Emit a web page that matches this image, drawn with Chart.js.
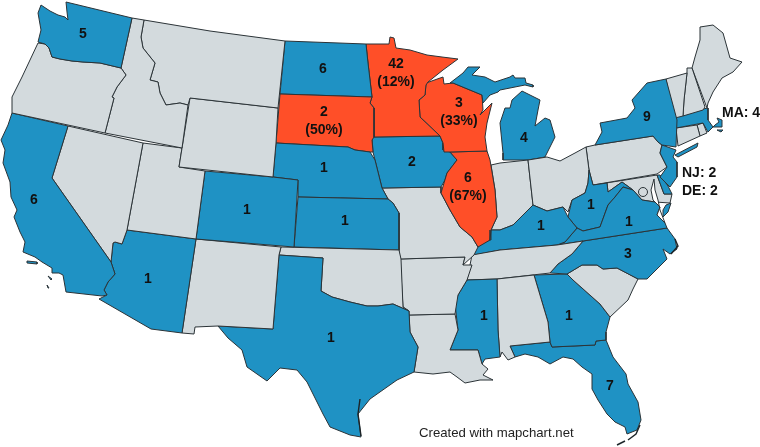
<!DOCTYPE html>
<html>
<head>
<meta charset="utf-8">
<style>
  html, body { margin: 0; padding: 0; background: #fff; }
  #wrap { width: 760px; height: 447px; }
</style>
<script src="https://cdn.jsdelivr.net/npm/chart.js@4/dist/chart.umd.min.js"></script>
</head>
<body>
<div id="wrap"><canvas id="map"></canvas></div>
<script>
// state outlines (map units = reference pixels)
const WA = [[66,2],[132,18],[121,68],[100,63],[83,62],[72,61],[60,59],[52,57],[49,48],[45,44],[38,42],[41,30],[38,13],[41,5],[50,11],[58,15],[65,17],[68,20],[67,12],[66,2]];
const OR = [[38,43],[45,44],[49,48],[52,57],[60,59],[72,61],[83,62],[100,63],[121,68],[126,75],[117,87],[112,97],[114,98],[105,133],[12,113],[12,97],[22,77],[30,60],[38,43]];
const CA = [[12,113],[68,126],[52,178],[111,262],[115,274],[108,282],[104,290],[107,295],[102,296],[66,292],[63,275],[59,273],[52,273],[52,268],[42,262],[35,257],[23,252],[25,242],[20,232],[14,217],[17,210],[11,197],[10,182],[3,163],[5,150],[1,140],[8,125],[12,113]];
const NV = [[68,126],[143,143],[127,230],[122,244],[115,242],[113,243],[111,262],[52,178],[68,126]];
const ID = [[132,18],[144,20],[141,37],[143,48],[155,63],[150,80],[158,82],[160,93],[166,105],[180,103],[188,105],[182,148],[105,133],[114,98],[112,97],[117,87],[126,75],[121,68],[132,18]];
const MT = [[144,20],[210,31],[285,41],[278,108],[190,98],[188,105],[180,103],[166,105],[160,93],[158,82],[150,80],[155,63],[143,48],[141,37],[144,20]];
const WY = [[190,98],[278,108],[276,143],[273,177],[179,167],[190,98]];
const UT = [[143,143],[182,148],[179,167],[205,171],[196,239],[127,230],[143,143]];
const CO = [[205,171],[273,177],[298,180],[294,247],[196,239],[205,171]];
const AZ = [[127,230],[196,239],[182,333],[151,329],[99,299],[107,295],[104,290],[108,282],[115,274],[111,262],[113,243],[115,242],[122,244],[127,230]];
const NM = [[196,239],[281,247],[279,255],[273,329],[218,326],[195,327],[194,334],[182,333],[196,239]];
const TX = [[279,255],[323,258],[321,291],[332,297],[350,302],[367,306],[378,306],[393,304],[409,311],[410,332],[418,347],[414,372],[397,380],[370,399],[358,414],[361,437],[350,435],[330,427],[323,414],[307,382],[297,370],[280,368],[267,381],[247,367],[242,350],[228,338],[218,326],[273,329],[279,255]];
const OK = [[281,247],[399,250],[401,259],[403,307],[409,311],[393,304],[378,306],[367,306],[350,302],[332,297],[321,291],[323,258],[279,255],[281,247]];
const KS = [[298,197],[388,199],[393,203],[399,213],[399,250],[294,247],[298,197]];
const NE = [[276,143],[348,147],[355,150],[370,152],[375,160],[382,188],[388,199],[298,197],[298,180],[273,177],[276,143]];
const SD = [[280,94],[372,97],[370,103],[374,108],[374,137],[372,140],[373,152],[370,152],[355,150],[348,147],[276,143],[280,94]];
const ND = [[285,41],[366,44],[368,63],[372,97],[280,94],[285,41]];
const MN = [[366,44],[389,44],[390,37],[394,38],[396,48],[410,50],[427,55],[442,57],[458,59],[443,70],[428,82],[426,85],[425,95],[419,100],[420,117],[440,136],[374,137],[374,108],[370,103],[372,97],[368,63],[366,44]];
const WI = [[426,83],[443,77],[444,84],[453,83],[482,95],[483,110],[480,115],[492,103],[487,123],[485,137],[487,151],[450,152],[444,152],[443,143],[440,136],[420,117],[419,100],[425,95],[426,83]];
const IL = [[450,152],[487,151],[490,160],[495,190],[497,217],[491,230],[490,240],[478,247],[472,237],[460,227],[450,210],[441,193],[447,173],[457,160],[450,152]];
const IA = [[372,137],[440,136],[443,143],[443,150],[450,152],[457,160],[447,173],[445,180],[441,187],[382,188],[375,160],[373,152],[372,137]];
const MO = [[382,188],[441,187],[441,193],[450,210],[460,227],[472,237],[478,247],[474,255],[463,265],[465,257],[400,259],[399,250],[399,213],[393,203],[388,199],[382,188]];
const AR = [[400,259],[465,257],[463,265],[472,265],[467,280],[458,295],[455,314],[409,315],[409,311],[403,307],[400,259]];
const LA = [[409,315],[455,314],[458,330],[450,350],[478,350],[482,364],[488,369],[483,375],[493,380],[480,380],[465,383],[457,377],[450,372],[433,374],[414,372],[418,347],[410,332],[409,315]];
const MS = [[467,280],[497,279],[498,330],[500,357],[485,359],[482,364],[478,350],[450,350],[458,330],[455,304],[458,295],[467,280]];
const AL = [[497,279],[534,275],[548,322],[550,342],[510,346],[515,357],[508,360],[502,352],[500,357],[498,330],[497,279]];
const TN = [[467,280],[472,255],[500,250],[557,245],[583,241],[572,254],[558,264],[550,273],[497,279],[467,280]];
const KY = [[474,255],[477,245],[490,240],[491,230],[500,230],[513,225],[533,205],[547,211],[563,207],[568,217],[577,228],[565,242],[557,245],[500,250],[474,255]];
const VA = [[577,228],[583,231],[600,227],[608,205],[615,197],[623,187],[633,190],[642,200],[655,202],[660,207],[657,215],[665,223],[667,228],[583,241],[557,245],[565,242],[577,228]];
const VA_SHORE = [[666,205],[671,203],[668,212],[663,217],[663,210],[666,205]];
const WV = [[589,170],[593,185],[607,183],[608,192],[622,182],[633,190],[623,187],[615,197],[608,205],[600,227],[583,231],[577,228],[568,217],[572,200],[585,193],[588,183],[589,170]];
const OH = [[528,160],[547,157],[560,161],[575,153],[586,147],[589,170],[588,183],[585,193],[572,200],[568,212],[563,207],[547,211],[533,205],[528,160]];
const IN = [[491,165],[500,163],[528,160],[533,205],[513,225],[500,230],[491,230],[497,217],[495,190],[491,165]];
const MI_LOW = [[503,160],[528,160],[545,157],[555,137],[550,120],[545,118],[535,126],[538,110],[540,100],[522,91],[512,100],[510,108],[505,108],[500,123],[502,143],[503,153],[503,160]];
const MI_UP = [[450,83],[463,73],[468,67],[480,67],[472,75],[485,77],[495,82],[510,77],[513,75],[515,78],[525,78],[526,83],[533,85],[533,87],[525,85],[510,88],[500,90],[498,92],[490,95],[483,103],[482,95],[453,83],[450,83]];
const NY = [[666,79],[677,120],[676,147],[662,145],[658,142],[653,136],[595,145],[602,132],[600,123],[627,118],[635,108],[632,100],[647,83],[666,79]];
const LONG_ISLAND = [[675,155],[698,143],[697,147],[678,157],[675,155]];
const NJ = [[662,145],[676,150],[673,157],[677,162],[677,177],[670,187],[660,177],[667,167],[660,153],[662,145]];
const PA = [[586,147],[595,145],[653,136],[658,142],[662,145],[660,153],[667,167],[657,174],[593,185],[589,170],[586,147]];
const DE = [[657,175],[660,175],[668,186],[672,194],[664,194],[657,175]];
const MD = [[593,185],[657,175],[664,194],[672,194],[670,203],[655,202],[642,200],[633,190],[622,182],[608,192],[607,183],[593,185]];
const VT = [[666,79],[687,73],[684,100],[683,116],[675,118],[670,100],[666,79]];
const NH = [[687,68],[692,68],[705,107],[703,110],[683,116],[684,100],[687,73],[687,68]];
const ME = [[692,68],[695,57],[700,40],[700,27],[713,25],[723,33],[730,58],[742,62],[733,72],[722,78],[713,92],[708,103],[707,108],[692,68]];
const MA = [[675,115],[703,109],[708,108],[708,120],[713,127],[722,127],[722,120],[717,118],[719,122],[715,125],[708,132],[703,123],[676,128],[675,115]];
const CT = [[676,128],[697,125],[700,136],[678,146],[676,128]];
const RI = [[697,125],[703,123],[707,133],[700,136],[697,125]];
const NC = [[667,228],[675,239],[677,249],[670,254],[663,249],[667,259],[647,279],[638,279],[617,268],[603,269],[597,265],[582,265],[567,274],[550,273],[558,264],[572,254],[583,241],[667,228]];
const SC = [[582,265],[597,265],[603,269],[617,268],[638,279],[633,289],[628,300],[610,317],[600,304],[573,280],[567,274],[582,265]];
const GA = [[534,275],[567,274],[573,280],[600,304],[610,317],[606,332],[606,340],[596,341],[595,345],[552,347],[550,342],[548,322],[534,275]];
const FL = [[510,346],[550,342],[552,347],[595,345],[596,341],[606,340],[613,357],[626,374],[628,384],[638,402],[641,420],[637,430],[627,434],[625,427],[615,422],[607,414],[598,400],[592,389],[592,374],[582,367],[573,359],[563,357],[550,364],[538,357],[525,354],[515,357],[510,346]];
const CA_ISLE_1 = [[27,261],[37,262],[37,264],[27,263],[27,261]];
const CA_ISLE_2 = [[48,276],[52,279],[51,280],[48,276]];
const CA_ISLE_3 = [[47,285],[49,288],[48,288],[47,285]];
const NANTUCKET = [[717,130],[723,130],[721,132],[717,130]];
const BAY = [[654,179],[651,190],[653,200],[660,207],[657,215],[665,223],[660,210],[658,200],[655,190],[654,179]];

const stateShapes = [WA,OR,CA,NV,ID,MT,WY,UT,CO,AZ,NM,TX,OK,KS,NE,SD,ND,MN,WI,IL,IA,MO,AR,LA,MS,AL,TN,KY,VA,WV,OH,IN,MI_LOW,NY,NJ,PA,DE,MD,VT,NH,ME,MA,CT,RI,NC,SC,GA,FL];
const blueExtras = [VA_SHORE,MI_UP,LONG_ISLAND,CA_ISLE_1,CA_ISLE_2,CA_ISLE_3,NANTUCKET];
const stateCodes = ['WA','OR','CA','NV','ID','MT','WY','UT','CO','AZ','NM','TX','OK','KS','NE','SD','ND','MN','WI','IL','IA','MO','AR','LA','MS','AL','TN','KY','VA','WV','OH','IN','MI','NY','NJ','PA','DE','MD','VT','NH','ME','MA','CT','RI','NC','SC','GA','FL'];

// counts per state and the share shown under the count
const countStates = ['WA','CA','CO','ND','SD','MN','WI','NE','IA','KS','IL','MI','NY','KY','WV','VA','NC','GA','MS','TX','AZ','FL','MA','NJ','DE'];
const counts = [5,6,1,6,2,42,3,1,2,1,6,4,9,1,1,1,3,1,1,1,1,7,4,2,2];
const shareStates = ['SD','MN','WI','IL'];
const shares = [50,12,33,67];

// where each count is written on the map, same order as countStates (last three go outside)
const labelX = [83,34,247,323,324,396,459,324,412,345,468,524,647,541,591,629,628,569,484,331,148,610,722,682,682];
const labelY = [34,200,210,69,112,64,103,168,162,221,178,138,117,226,205,222,254,316,316,338,279,386,113,173,191];
const outsideLabels = ['MA','NJ','DE'];
const creditText = 'Created with mapchart.net';
const creditPoint = [419, 433];

const BLUE = '#1f92c4';
const ORANGE = '#ff4f28';
const GREY = '#d3dadd';
const EDGE = '#2b3337';

function toPoints(list) {
  return list.map(p => ({ x: p[0], y: p[1] }));
}

function colorFor(code) {
  if (shareStates.includes(code)) return ORANGE;
  if (countStates.includes(code)) return BLUE;
  return GREY;
}

function polygon(list, color) {
  return { data: toPoints(list), showLine: true, fill: 'shape', backgroundColor: color, borderColor: EDGE, borderWidth: 1, pointRadius: 0, tension: 0 };
}

function edgeLine(list) {
  return { data: toPoints(list), showLine: true, fill: false, borderColor: '#1c2428', borderWidth: 1.4, pointRadius: 0, tension: 0 };
}

// first dataset is painted last, so the small details go on top
const datasets = [];
datasets.push({ data: [{ x: 643, y: 192 }], showLine: false, pointRadius: 4.5, pointBackgroundColor: GREY, pointBorderColor: EDGE, pointBorderWidth: 1 });
datasets.push(edgeLine([[675,239],[678,246],[671,254]]));
datasets.push(edgeLine([[360,399],[358,414],[361,436]]));
datasets.push(edgeLine([[640,425],[636,434],[628,440]]));
datasets.push(edgeLine([[617,445],[625,441]]));
datasets.push(polygon(BAY, '#ffffff'));
blueExtras.forEach(s => datasets.push(polygon(s, BLUE)));
stateShapes.forEach((s, i) => datasets.push(polygon(s, colorFor(stateCodes[i]))));

const labelPlugin = {
  id: 'stateLabels',
  afterDatasetsDraw(chart) {
    const { ctx, scales } = chart;
    ctx.save();
    ctx.fillStyle = '#111';
    ctx.textBaseline = 'middle';
    ctx.font = 'bold 14px "Liberation Sans"';
    countStates.forEach((code, i) => {
      const x = scales.x.getPixelForValue(labelX[i]);
      const y = scales.y.getPixelForValue(labelY[i]);
      if (outsideLabels.includes(code)) {
        ctx.textAlign = 'left';
        ctx.fillText(code + ': ' + counts[i], x, y);
        return;
      }
      ctx.textAlign = 'center';
      ctx.fillText(String(counts[i]), x, y);
      const s = shareStates.indexOf(code);
      if (s >= 0) ctx.fillText('(' + shares[s] + '%)', x, y + 18);
    });
    ctx.textAlign = 'left';
    ctx.font = '13.2px "Liberation Sans"';
    ctx.fillStyle = '#222';
    ctx.fillText(creditText, scales.x.getPixelForValue(creditPoint[0]), scales.y.getPixelForValue(creditPoint[1]));
    ctx.restore();
  }
};

new Chart('map', {
  type: 'scatter',
  data: { datasets: datasets },
  plugins: [labelPlugin],
  options: {
    responsive: true,
    maintainAspectRatio: false,
    animation: false,
    layout: { padding: 0, autoPadding: false },
    plugins: { legend: { display: false }, tooltip: { enabled: false }, title: { display: false } },
    scales: {
      x: { type: 'linear', display: false, min: 0, max: 760 },
      y: { type: 'linear', display: false, min: 0, max: 447, reverse: true }
    }
  }
});
</script>
</body>
</html>
